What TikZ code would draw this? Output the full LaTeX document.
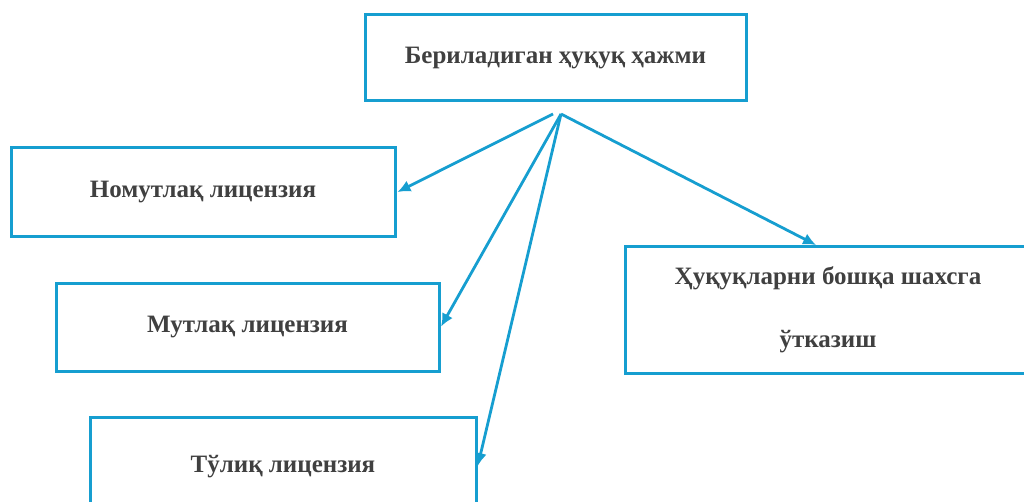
\documentclass[tikz,border=0pt]{standalone}
\usepackage{fontspec}
\setmainfont{Liberation Serif}
\usetikzlibrary{arrows.meta}
\definecolor{boxblue}{RGB}{22,158,208}
\definecolor{txtgray}{RGB}{64,64,64}
\begin{document}
\begin{tikzpicture}[x=1pt, y=-1pt,
	rbox/.style={draw=boxblue, line width=3pt, rectangle, inner sep=0pt, text=txtgray, font=\bfseries\fontsize{25}{29}\selectfont},
	larrow/.style={draw=boxblue, line width=2.8pt, -{Latex[length=13pt,width=12pt]}, shorten >=1pt}]
	\useasboundingbox (0,0) rectangle (1024,502);
	\node[rbox, minimum width=381pt, minimum height=86pt] (hajm) at (555.5,58) {Бериладиган ҳуқуқ ҳажми};
	\node[rbox, minimum width=384pt, minimum height=89pt] (nomut) at (203,192.5) {Номутлақ лицензия};
	\node[rbox, minimum width=383pt, minimum height=87pt] (mut) at (247.5,327.5) {Мутлақ лицензия};
	\node[rbox, minimum width=386pt, minimum height=100pt] (tuliq) at (283,467) {Тўлиқ лицензия};
	\node[rbox, minimum width=406pt, minimum height=126pt, align=center, font=\bfseries\fontsize{25}{63}\selectfont] (hbosh) at (828,310) {Ҳуқуқларни бошқа шахсга\\ўтказиш};
	\coordinate (srcl) at (553,114);
	\coordinate (srcr) at (561,114);
	\draw[larrow] (srcl) -- (nomut.east);
	\draw[larrow] (srcr) -- (mut.east);
	\draw[larrow] (srcr) -- (tuliq.east);
	\draw[larrow] (srcr) -- ([xshift=-11pt]hbosh.north);
\end{tikzpicture}
\end{document}
